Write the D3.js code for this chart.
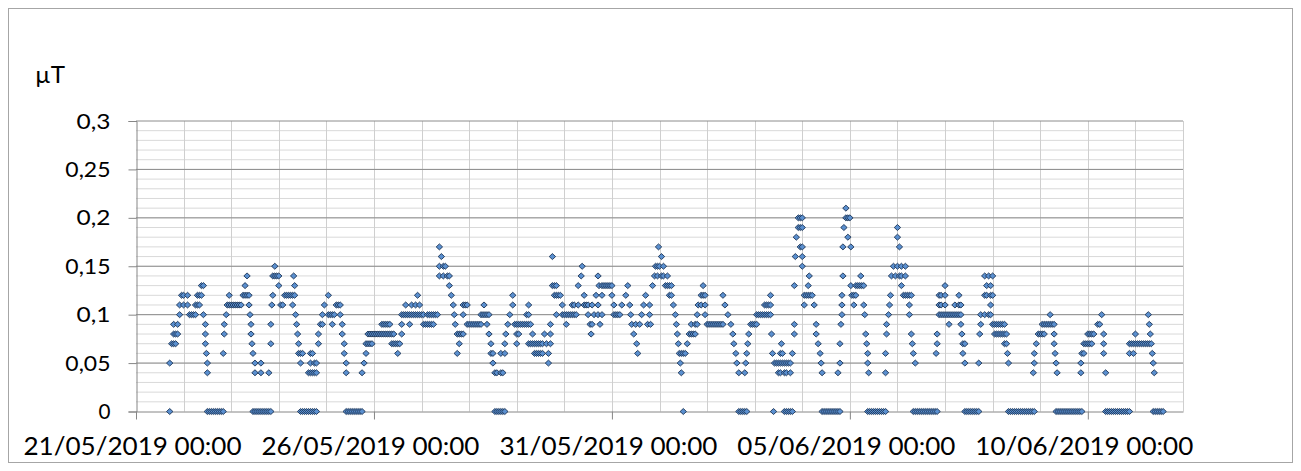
<!DOCTYPE html>
<html>
<head>
<meta charset="utf-8">
<script src="https://cdn.jsdelivr.net/npm/d3@7"></script>
<style>
body { margin: 0; background: #fff; }
text { font-family: Lato, "Open Sans", sans-serif; fill: #000; }
</style>
</head>
<body>
<svg id="chart" width="1301" height="471"></svg>
<script>
// readings: [hours since 21/05/2019 00:00, µT]
var startDate = new Date(2019, 4, 21, 0, 0);
var endDate = new Date(2019, 5, 12, 0, 0);
var unitLabel = "µT";
var yTicks = [0, 0.05, 0.1, 0.15, 0.2, 0.25, 0.3];
var yTickLabels = ["0", "0,05", "0,1", "0,15", "0,2", "0,25", "0,3"];
var xTickDates = [new Date(2019,4,21), new Date(2019,4,26), new Date(2019,4,31), new Date(2019,5,5), new Date(2019,5,10)];
var xTickLabels = ["21/05/2019 00:00", "26/05/2019 00:00", "31/05/2019 00:00", "05/06/2019 00:00", "10/06/2019 00:00"];

var readings = [
 [17,0.05],[17,0],[18,0.07],[19,0.07],[20,0.07],[19,0.08],[20,0.08],[21,0.08],[19,0.09],[21,0.09],
 [22,0.1],[22,0.11],[24,0.11],[26,0.11],[23,0.12],[24,0.12],[26,0.12],
 [27,0.1],[28,0.1],[29,0.1],[30,0.1],[30,0.11],[31,0.11],[32,0.11],[31,0.12],[32,0.12],[33,0.12],
 [33,0.13],[34,0.13],[34,0.1],[35,0.09],[35,0.08],[35,0.07],[35.5,0.06],[36,0.05],[36,0.04],
 [36,0],[37,0],[38,0],[39,0],[40,0],[41,0],[42,0],[43,0],[44,0],
 [44,0.06],[44.5,0.08],[44.5,0.09],[45.5,0.1],
 [46,0.11],[47,0.11],[48,0.11],[49,0.11],[50,0.11],[51,0.11],[52,0.11],[53,0.11],[47,0.12],
 [54,0.12],[55,0.12],[56,0.12],[57,0.12],[55,0.13],[56,0.14],
 [57,0.11],[57.5,0.1],[58,0.09],[58,0.08],[58.5,0.07],[59,0.06],[60,0.05],[60,0.04],
 [59,0],[60,0],[61,0],[62,0],[63,0],[64,0],[65,0],[66,0],[67,0],[68,0],
 [63,0.05],[63,0.04],[67,0.04],
 [68,0.07],[68,0.09],[68.5,0.11],[69,0.12],[69,0.14],[70,0.14],[71,0.14],[72,0.14],[70,0.15],[72,0.13],
 [73,0.11],[74,0.11],[75,0.12],[76,0.12],[77,0.12],[78,0.12],[79,0.12],[80,0.12],
 [79.5,0.14],[80,0.13],[79,0.11],[80.5,0.1],[81,0.09],[81.5,0.08],[82,0.07],
 [82,0.06],[83,0.06],[84,0.06],[83,0.05],[87,0.04],
 [83,0],[84,0],[85,0],[86,0],[87,0],[88,0],[89,0],[90,0],[91,0],
 [88,0.04],[89,0.04],[90,0.04],[91,0.04],[88,0.05],[90,0.05],[91,0.05],[88,0.06],[89,0.06],
 [92,0.07],[92,0.08],[93,0.09],[94,0.09],[94,0.1],[95,0.11],[97,0.12],
 [97,0.1],[98,0.1],[99,0.1],[100,0.1],[99,0.09],[101,0.11],[102,0.11],[103,0.11],
 [103,0.1],[104,0.09],[104,0.08],[105,0.07],[105,0.06],[106,0.05],[106,0.04],
 [106,0],[107,0],[108,0],[109,0],[110,0],[111,0],[112,0],[113,0],[114,0],
 [114,0.04],[115,0.05],[116,0.06],[116,0.07],[117,0.07],[118,0.07],[119,0.07],
 [117,0.08],[118,0.08],[119,0.08],[120,0.08],[121,0.08],[122,0.08],[123,0.08],[124,0.08],[125,0.08],[126,0.08],[127,0.08],[128,0.08],[129,0.08],[130,0.08],
 [124,0.09],[125,0.09],[126,0.09],[127,0.09],[128,0.09],
 [129,0.07],[130,0.07],[131,0.07],[132,0.07],[133,0.07],[132,0.06],
 [134,0.08],[134,0.09],
 [134,0.1],[135,0.1],[136,0.1],[137,0.1],[138,0.1],[139,0.1],[140,0.1],[141,0.1],[142,0.1],[143,0.1],[144,0.1],[145,0.1],
 [136,0.11],[139,0.11],[141,0.11],[143,0.11],[138,0.09],[142,0.12],
 [145,0.09],[146,0.09],[147,0.09],[148,0.09],[149,0.09],[150,0.09],
 [147,0.1],[148,0.1],[149,0.1],[150,0.1],[151,0.1],[152,0.1],
 [153,0.17],[154,0.16],[153,0.15],[155,0.15],[156,0.15],[153,0.14],[155,0.14],[157,0.14],[158,0.14],
 [158,0.13],[159,0.12],[160,0.11],[160.5,0.1],[161,0.09],
 [162,0.08],[163,0.08],[164,0.08],[165,0.08],[163,0.07],[162,0.06],
 [165,0.1],[165,0.11],[166,0.11],[167,0.11],
 [167,0.09],[168,0.09],[169,0.09],[170,0.09],[171,0.09],[172,0.09],[173,0.09],[174,0.09],
 [174,0.1],[175,0.1],[176,0.1],[177,0.1],[178,0.1],[175.5,0.11],
 [177,0.09],[178,0.08],[179,0.07],[179,0.06],[180,0.06],[180,0.05],
 [181,0.04],[182,0.04],[184,0.04],[185,0.04],[184,0.06],[186,0.06],
 [181,0],[182,0],[183,0],[184,0],[185,0],[186,0],
 [186,0.07],[186.5,0.08],[187.5,0.09],[188.5,0.1],[190,0.11],[190,0.12],
 [191,0.09],[192,0.09],[193,0.09],[194,0.09],[195,0.09],[196,0.09],[197,0.09],[198,0.09],[199,0.09],
 [192,0.08],[193,0.08],[192,0.07],[197,0.1],[198,0.1],[198,0.11],[200,0.08],
 [198,0.07],[199,0.07],[200,0.07],[201,0.07],[202,0.07],[203,0.07],[204,0.07],[205,0.07],[207,0.07],[209,0.07],
 [201,0.06],[202,0.06],[203,0.06],[204,0.06],[205,0.06],
 [206,0.08],[208,0.06],[208,0.05],[209,0.08],[209,0.09],
 [210,0.16],[210,0.13],[211,0.13],[212,0.13],[211,0.12],[212,0.12],[213,0.12],[214,0.12],[212,0.1],
 [215,0.11],[215,0.1],[216,0.1],[217,0.1],[218,0.1],[219,0.1],[220,0.1],[221,0.1],[222,0.1],
 [217,0.09],[220,0.11],[221,0.11],[223,0.11],
 [223,0.13],[224.5,0.14],[225,0.15],[226,0.12],
 [226,0.11],[227,0.11],[228,0.11],[230,0.11],[228,0.1],[229,0.09],[230,0.09],[229.5,0.08],
 [232,0.12],[233,0.14],[233.5,0.13],[231,0.1],[233,0.1],[235,0.1],[233,0.11],[234,0.09],
 [235,0.13],[236,0.13],[237,0.13],[238,0.13],[239,0.13],[240,0.13],[235,0.12],[240,0.12],
 [241,0.11],[241,0.1],[242,0.1],[243,0.1],[244,0.1],
 [245,0.11],[247,0.12],[248,0.13],
 [249,0.11],[249.5,0.1],[250,0.09],[252,0.09],[254,0.09],[251,0.08],[252.5,0.07],[253,0.06],
 [255,0.1],[256,0.11],[257,0.12],[259,0.11],[259,0.1],[258,0.09],[259.5,0.09],
 [260.5,0.13],[261.5,0.14],[262,0.15],[263.5,0.17],
 [265,0.16],[263,0.15],[264,0.15],[266,0.15],[263,0.14],[265,0.14],[266,0.14],[268,0.14],
 [267,0.13],[268,0.13],[269,0.13],[270,0.13],[269,0.12],[270,0.12],
 [271,0.11],[272,0.1],[272.5,0.09],[273,0.08],[273.5,0.07],
 [274,0.06],[275,0.06],[276,0.06],[277,0.06],[274.5,0.05],[275,0.04],[276,0],
 [278,0.07],[279,0.08],[280,0.08],[281,0.08],[282,0.08],[280,0.09],[282,0.09],[283,0.09],
 [283,0.1],[283.5,0.11],[285,0.11],[287,0.11],[285,0.12],[286,0.12],[287,0.12],[286,0.13],[287,0.1],
 [288,0.09],[289,0.09],[290,0.09],[291,0.09],[292,0.09],[293,0.09],[294,0.09],[295,0.09],[296,0.09],
 [296,0.12],[297,0.11],[298.5,0.1],[300,0.09],[301,0.08],[301.5,0.07],[302.5,0.06],[303,0.05],[304,0.04],[307,0.04],
 [304,0],[305,0],[306,0],[307,0],[308,0],
 [307.5,0.05],[308,0.06],[308.5,0.07],[309,0.08],
 [310,0.09],[311,0.09],[312,0.09],[313,0.09],
 [313,0.1],[314,0.1],[315,0.1],[316,0.1],[317,0.1],[318,0.1],[319,0.1],[320,0.1],
 [317,0.11],[318,0.11],[319,0.11],[320,0.11],[320,0.12],
 [320.5,0.08],[321,0.06],[321.5,0],
 [322,0.05],[323,0.05],[324,0.05],[325,0.05],[326,0.05],[327,0.05],[328,0.05],[329,0.05],[330,0.05],
 [324,0.04],[325,0.04],[327,0.04],[328,0.04],[330,0.04],[325,0.06],[326,0.06],[325.5,0.07],
 [327,0],[328,0],[329,0],[330,0],[331,0],
 [331,0.06],[332,0.08],[332,0.09],[332,0.13],[332.5,0.16],[333,0.18],
 [334,0.19],[335,0.19],[336,0.19],[334,0.2],[335,0.2],[336,0.2],
 [335,0.17],[336,0.17],[336,0.16],[336,0.15],
 [337,0.12],[338,0.12],[339,0.12],[340,0.12],[341,0.12],[339,0.13],[339.5,0.14],[337,0.11],[342,0.11],
 [343,0.09],[343,0.08],[344,0.07],[345,0.06],[345.5,0.05],[346,0.04],
 [346,0],[347,0],[348,0],[349,0],[350,0],[351,0],[352,0],[353,0],[354,0],[355,0],
 [354,0.04],[355,0.05],[355,0.07],[355.5,0.09],[356,0.1],[356,0.11],[356,0.12],[356.5,0.14],
 [356.5,0.17],[357,0.19],[358,0.2],[359,0.2],[360,0.2],[358,0.21],[359,0.18],[360.5,0.17],
 [360.5,0.13],[361,0.12],[362,0.12],[363,0.12],[362,0.11],
 [363,0.13],[364,0.13],[365,0.13],[366,0.13],[367,0.13],[365.5,0.14],
 [367,0.11],[367.5,0.1],[368,0.08],[368.5,0.07],[369,0.06],[369,0.05],[369.5,0.04],
 [369,0],[370,0],[371,0],[372,0],[373,0],[374,0],[375,0],[376,0],[377,0],[378,0],
 [378,0.04],[378,0.06],[378.5,0.08],[378.5,0.09],[379.5,0.1],[380,0.11],[380.5,0.12],
 [381,0.14],[382,0.15],[384,0.15],[386,0.15],[388,0.15],[383,0.14],[385,0.14],[386,0.14],[388,0.14],
 [384,0.19],[384,0.18],[385,0.17],[386,0.13],
 [387,0.12],[388,0.12],[389,0.12],[390,0.12],[391,0.12],
 [390,0.11],[390,0.1],[391,0.08],[391.5,0.07],[392,0.06],[393,0.05],
 [392,0],[393,0],[394,0],[395,0],[396,0],[397,0],[398,0],[399,0],[400,0],[401,0],[402,0],[403,0],[404,0],
 [403.5,0.06],[404,0.07],[404,0.08],
 [405,0.1],[406,0.1],[407,0.1],[408,0.1],[405,0.11],[406,0.11],[408,0.11],[405,0.12],[406,0.12],[408,0.12],[408,0.13],
 [409,0.1],[410,0.1],[411,0.1],[412,0.1],[413,0.1],[414,0.1],[415,0.1],[416,0.1],[410,0.09],
 [413,0.11],[415,0.11],[416,0.11],[415,0.12],[416,0.09],[416.5,0.08],[417,0.07],[418,0.07],[417,0.06],[418,0.05],
 [418,0],[419,0],[420,0],[421,0],[422,0],[423,0],[424,0],[425,0],
 [425,0.05],[425.5,0.08],[426,0.09],
 [426,0.1],[428,0.1],[430,0.1],[431,0.1],[428,0.12],[429,0.12],[431,0.12],[432,0.12],
 [428,0.14],[430,0.14],[432,0.14],[429,0.13],[431,0.13],[431,0.11],
 [432,0.09],[433,0.09],[434,0.09],[435,0.09],[436,0.09],[437,0.09],
 [433,0.08],[434,0.08],[435,0.08],[436,0.08],[437,0.08],[438,0.08],[439,0.08],
 [438,0.07],[438,0.09],[439,0.07],[439.5,0.06],[440,0.05],
 [440,0],[441,0],[442,0],[443,0],[444,0],[445,0],[446,0],[447,0],[448,0],[449,0],[450,0],[451,0],[452,0],[453,0],
 [452.5,0.04],[453,0.05],[453,0.06],[454,0.07],[455,0.08],[456,0.08],[457,0.08],[458,0.08],
 [457,0.09],[458,0.09],[459,0.09],[460,0.09],[461,0.09],[462,0.09],[463,0.09],
 [461,0.1],[463,0.08],[463,0.07],[463.5,0.06],[464,0.05],[464.5,0.04],
 [464,0],[465,0],[466,0],[467,0],[468,0],[469,0],[470,0],[471,0],[472,0],[473,0],[474,0],[475,0],[476,0],[477,0],
 [476.5,0.04],[476.5,0.05],[477,0.06],[478,0.06],
 [478,0.07],[479,0.07],[480,0.07],[481,0.07],[482,0.07],[480,0.08],[481,0.08],[482,0.08],[483,0.08],
 [485,0.09],[486,0.09],[487,0.1],[488,0.08],[488,0.07],[488,0.06],[489,0.04],
 [489,0],[490,0],[491,0],[492,0],[493,0],[494,0],[495,0],[496,0],[497,0],[498,0],[499,0],[500,0],[501,0],
 [501,0.06],[503,0.06],
 [501,0.07],[502,0.07],[503,0.07],[504,0.07],[505,0.07],[506,0.07],[507,0.07],[508,0.07],[509,0.07],[510,0.07],[511,0.07],
 [504,0.08],
 [510.5,0.1],[511,0.09],[511.5,0.08],[512,0.07],[512.5,0.06],[513,0.05],[513.5,0.04],
 [513,0],[514,0],[515,0],[516,0],[517,0],[518,0]
];

var svg = d3.select("#chart");

// outer chart border
svg.append("rect")
    .attr("x", 8.5).attr("y", 8.5)
    .attr("width", 1284).attr("height", 454)
    .attr("fill", "#fff")
    .attr("stroke", "#a6a6a6");

var xScale = d3.scaleTime()
    .domain([startDate, endDate])
    .range([136, 1183]);

var yScale = d3.scaleLinear()
    .domain([0, 0.3])
    .range([411.5, 121]);

var grid = svg.append("g");

// minor horizontal lines every 0.01
grid.selectAll(".minor")
    .data(d3.range(1, 30).map(function(i) { return i / 100; }))
    .enter().append("line")
    .attr("x1", 136).attr("x2", 1183)
    .attr("y1", function(d) { return yScale(d); })
    .attr("y2", function(d) { return yScale(d); })
    .attr("stroke", "#d9d9d9");

// daily vertical lines
grid.selectAll(".day")
    .data(d3.timeDay.range(d3.timeDay.offset(startDate, 1), d3.timeDay.offset(endDate, 1)))
    .enter().append("line")
    .attr("x1", function(d) { return Math.round(xScale(d)) + 0.5; })
    .attr("x2", function(d) { return Math.round(xScale(d)) + 0.5; })
    .attr("y1", 121).attr("y2", 411.5)
    .attr("stroke", "#cfcfcf");

// major horizontal lines
grid.selectAll(".major")
    .data(yTicks.slice(1))
    .enter().append("line")
    .attr("x1", 136).attr("x2", 1183)
    .attr("y1", function(d) { return yScale(d); })
    .attr("y2", function(d) { return yScale(d); })
    .attr("stroke", "#8c8c8c");

// axes
var yAxis = d3.axisLeft(yScale)
    .tickValues(yTicks)
    .tickFormat(function(d, i) { return yTickLabels[i]; })
    .tickSize(8)
    .tickPadding(18);

var yg = svg.append("g")
    .attr("transform", "translate(136.5,0)")
    .call(yAxis);
yg.select(".domain").attr("stroke", "#868686");
yg.selectAll(".tick line").attr("stroke", "#868686");
yg.selectAll(".tick text")
    .attr("font-family", "Lato, sans-serif")
    .attr("font-size", 22)
    .attr("fill", "#000")
    .attr("textLength", function(d, i) { return yTickLabels[i].length == 1 ? 12 : yTickLabels[i].length * 11.3; })
    .attr("lengthAdjust", "spacingAndGlyphs");

var xAxis = d3.axisBottom(xScale)
    .tickValues(xTickDates)
    .tickFormat(function(d, i) { return xTickLabels[i]; })
    .tickSize(8)
    .tickSizeOuter(0)
    .tickPadding(6);

var xg = svg.append("g")
    .attr("transform", "translate(0,411.5)")
    .call(xAxis);
xg.select(".domain").attr("stroke", "#868686");
xg.selectAll(".tick line").attr("stroke", "#868686");
xg.selectAll(".tick text")
    .attr("font-family", "Lato, sans-serif")
    .attr("font-size", 25)
    .attr("fill", "#000")
    .attr("dy", null)
    .attr("dx", -4)
    .attr("y", 43)
    .attr("textLength", 218)
    .attr("lengthAdjust", "spacingAndGlyphs");

// unit label
svg.append("text")
    .text(unitLabel)
    .attr("x", 35).attr("y", 83)
    .attr("font-size", 23)
    .attr("textLength", 30)
    .attr("lengthAdjust", "spacingAndGlyphs");

// markers
var sorted = readings.slice().sort(function(a, b) { return a[0] - b[0]; });
svg.append("g")
    .selectAll("path")
    .data(sorted)
    .enter().append("path")
    .attr("d", "M0,-3L3.2,0L0,3L-3.2,0Z")
    .attr("transform", function(d) {
        var t = d3.timeMinute.offset(startDate, Math.round(d[0] * 60));
        return "translate(" + xScale(t) + "," + yScale(d[1]) + ")";
    })
    .attr("fill", "#5a8fcf")
    .attr("stroke", "#1d3557")
    .attr("stroke-width", 0.9);
</script>
</body>
</html>
